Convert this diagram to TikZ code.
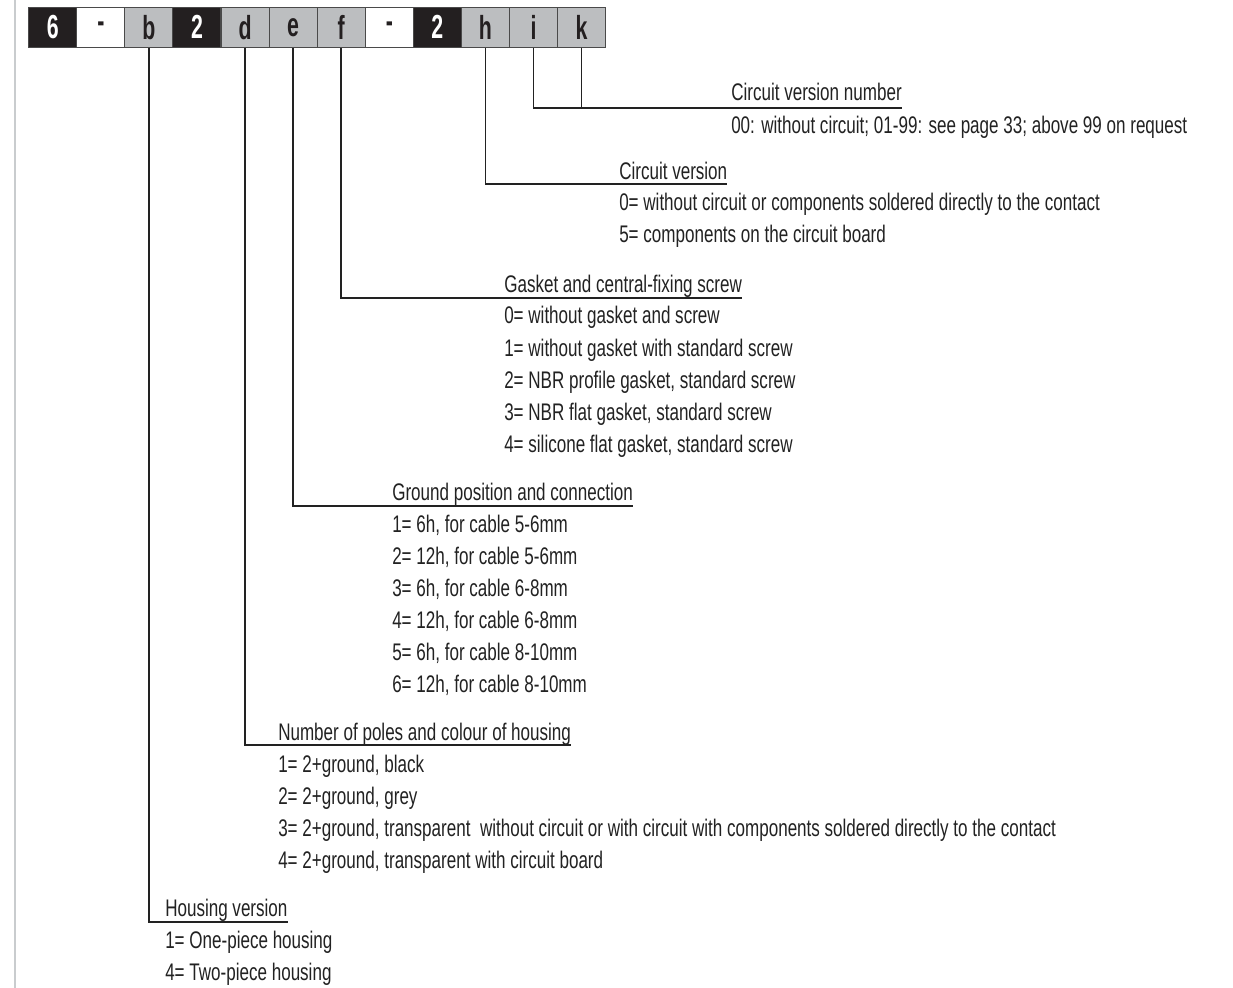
\documentclass[tikz,border=0pt]{standalone}
\usepackage{fontspec}
\setmainfont{Liberation Sans}[FakeStretch=0.71]
\newfontfamily\cellfont{Liberation Sans}[FakeStretch=0.64, UprightFont=*-Bold]
\definecolor{cellblack}{HTML}{231F20}
\definecolor{cellgrey}{HTML}{BCBEC0}
\definecolor{cellborder}{HTML}{4A4A4A}
\definecolor{ink}{HTML}{222222}
\definecolor{sidebar}{HTML}{C9CCCE}
\begin{document}
\begin{tikzpicture}[x=0.75pt,y=-0.75pt,
  cell/.style={draw=cellborder, line width=0.8pt, minimum width=36.06pt, minimum height=30pt,
    inner sep=0pt, font=\cellfont\fontsize{25}{25}\selectfont},
  blackcell/.style={cell, fill=cellblack, text=white},
  greycell/.style={cell, fill=cellgrey, text=cellblack},
  whitecell/.style={cell, fill=white, text=cellblack},
  lbl/.style={anchor=base west, inner sep=0pt, text=ink, font=\fontsize{18}{18}\selectfont},
  conn/.style={draw=ink, line width=1.1pt}]
\useasboundingbox (0,0) rectangle (1233,988);
\fill[white] (0,0) rectangle (1233,988);
\draw[sidebar, line width=2.2pt] (15,0) -- (15,988);
% code cells
\node[blackcell] (c6)  at (52.74,27.3)  {6};
\node[whitecell] (cd1) at (100.82,27.3) {-};
\node[greycell]  (cb)  at (148.9,27.3)  {b};
\node[blackcell] (c2a) at (196.98,27.3) {2};
\node[greycell]  (cd)  at (245.06,27.3) {d};
\node[greycell]  (ce)  at (293.14,27.3) {e};
\node[greycell]  (cf)  at (341.22,27.3) {f};
\node[whitecell] (cd2) at (389.3,27.3)  {-};
\node[blackcell] (c2b) at (437.38,27.3) {2};
\node[greycell]  (ch)  at (485.46,27.3) {h};
\node[greycell]  (ci)  at (533.54,27.3) {i};
\node[greycell]  (ck)  at (581.62,27.3) {k};
% level coordinates
\coordinate (lk) at (0,108);
\coordinate (lh) at (0,184);
\coordinate (lf) at (0,298);
\coordinate (le) at (0,506);
\coordinate (ld) at (0,745);
\coordinate (lb) at (0,922);
% circuit version number
\node[lbl] (tk)  at (731,101) {Circuit version number};
\node[lbl] (tk1) at (731,134) {00: without circuit; 01-99: see page 33; above 99 on request};
% circuit version
\node[lbl] (th)  at (619,180) {Circuit version};
\node[lbl] (th1) at (619,211) {0= without circuit or components soldered directly to the contact};
\node[lbl] (th2) at (619,243) {5= components on the circuit board};
% gasket
\node[lbl] (tf)  at (504,292) {Gasket and central-fixing screw};
\node[lbl] (tf1) at (504,324) {0= without gasket and screw};
\node[lbl] (tf2) at (504,356) {1= without gasket with standard screw};
\node[lbl] (tf3) at (504,388) {2= NBR profile gasket, standard screw};
\node[lbl] (tf4) at (504,420) {3= NBR flat gasket, standard screw};
\node[lbl] (tf5) at (504,452) {4= silicone flat gasket, standard screw};
% ground
\node[lbl] (te)  at (392,500) {Ground position and connection};
\node[lbl] (te1) at (392,532) {1= 6h, for cable 5-6mm};
\node[lbl] (te2) at (392,564) {2= 12h, for cable 5-6mm};
\node[lbl] (te3) at (392,596) {3= 6h, for cable 6-8mm};
\node[lbl] (te4) at (392,628) {4= 12h, for cable 6-8mm};
\node[lbl] (te5) at (392,660) {5= 6h, for cable 8-10mm};
\node[lbl] (te6) at (392,692) {6= 12h, for cable 8-10mm};
% poles
\node[lbl] (td)  at (278,740) {Number of poles and colour of housing};
\node[lbl] (td1) at (278,772) {1= 2+ground, black};
\node[lbl] (td2) at (278,804) {2= 2+ground, grey};
\node[lbl] (td3) at (278,836) {3= 2+ground, transparent\ \ without circuit or with circuit with components soldered directly to the contact};
\node[lbl] (td4) at (278,868) {4= 2+ground, transparent with circuit board};
% housing
\node[lbl] (tb)  at (165,916) {Housing version};
\node[lbl] (tb1) at (165,948) {1= One-piece housing};
\node[lbl] (tb2) at (165,980) {4= Two-piece housing};
% connectors
\draw[conn] (ci.south) |- (tk.east |- lk);
\draw[conn] (ck.south) -- (ck.south |- lk);
\draw[conn] (ch.south) |- (th.east |- lh);
\draw[conn] (cf.south) |- (tf.east |- lf);
\draw[conn] (ce.south) |- (te.east |- le);
\draw[conn] (cd.south) |- (td.east |- ld);
\draw[conn] (cb.south) |- (tb.east |- lb);
\end{tikzpicture}
\end{document}
